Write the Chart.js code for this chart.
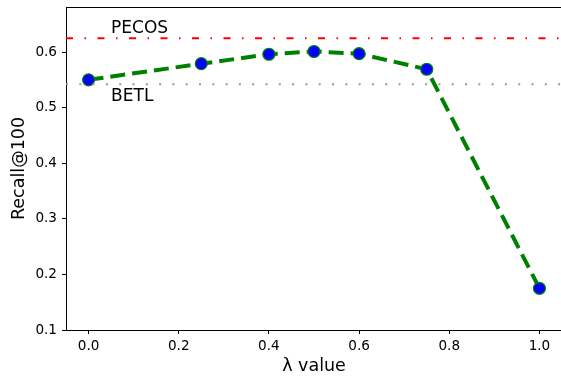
<!DOCTYPE html>
<html lang="en">

<head>
  <meta charset="UTF-8">
  <title>Recall vs lambda</title>
  <script src="https://cdn.jsdelivr.net/npm/chart.js"></script>
  <style>
    html, body { margin: 0; padding: 0; overflow: hidden; background: #fff; }
    canvas { display: block; }
  </style>
</head>

<body>
  <canvas id="chart" width="564" height="377"></canvas>

  <script>
    // data
    const lambdaValues = [0.0, 0.25, 0.4, 0.5, 0.6, 0.75, 1.0];
    const recallValues = [0.550, 0.579, 0.596, 0.601, 0.597, 0.569, 0.175];
    const pecosValue = 0.625;
    const betlValue = 0.542;
    const xTicks = [0.0, 0.2, 0.4, 0.6, 0.8, 1.0];
    const yTicks = [0.1, 0.2, 0.3, 0.4, 0.5, 0.6];
    const xMin = -0.05, xMax = 1.05;
    const yMin = 0.1, yMax = 0.681;

    const FONT = "'DejaVu Sans', sans-serif";
    Chart.defaults.font.family = FONT;
    Chart.defaults.color = '#000';

    const frame = {
      id: 'frame',
      afterDraw(chart) {
        const { ctx, chartArea: a, scales } = chart;
        ctx.save();
        ctx.strokeStyle = '#000';
        ctx.lineWidth = 1;
        ctx.beginPath();
        ctx.moveTo(a.left, a.top + 0.5);
        ctx.lineTo(a.right, a.top + 0.5);
        ctx.lineTo(a.right, a.bottom);
        ctx.stroke();
        // text labels for the reference lines
        ctx.fillStyle = '#000';
        ctx.font = "17px " + FONT;
        ctx.textBaseline = 'alphabetic';
        ctx.fillText('PECOS', scales.x.getPixelForValue(0.05), scales.y.getPixelForValue(0.635));
        ctx.fillText('BETL', scales.x.getPixelForValue(0.05), scales.y.getPixelForValue(0.512));
        ctx.restore();
      }
    };

    const ctx = document.getElementById('chart').getContext('2d');
    new Chart(ctx, {
      type: 'line',
      data: {
        datasets: [
          {
            label: 'PECOS',
            data: [{ x: xMin, y: pecosValue }, { x: xMax, y: pecosValue }],
            borderColor: '#ff0000',
            borderWidth: 2,
            borderDash: [7, 11.5, 1.5, 11.5],
            pointRadius: 0
          },
          {
            label: 'BETL',
            data: [{ x: xMin, y: betlValue }, { x: xMax, y: betlValue }],
            borderColor: '#999999',
            borderWidth: 2,
            borderDash: [2, 11.3],
            pointRadius: 0
          },
          {
            label: 'ours',
            data: lambdaValues.map((l, i) => ({ x: l, y: recallValues[i] })),
            borderColor: '#008000',
            borderWidth: 4,
            borderDash: [15, 7],
            pointRadius: 6,
            pointBackgroundColor: '#0000ff',
            pointBorderColor: '#008000',
            pointBorderWidth: 1.2
          }
        ]
      },
      options: {
        responsive: false,
        animation: false,
        layout: { autoPadding: false, padding: { top: 7, right: 2, left: 0, bottom: 0 } },
        plugins: { legend: { display: false }, tooltip: { enabled: false } },
        scales: {
          x: {
            type: 'linear',
            min: xMin,
            max: xMax,
            afterBuildTicks: s => { s.ticks = xTicks.map(v => ({ value: v })); },
            afterFit: s => { s.height = 47; s.paddingLeft = 0; s.paddingRight = 0; },
            grid: { drawOnChartArea: false, drawTicks: true, tickLength: 4, color: '#000' },
            border: { color: '#000', width: 1 },
            ticks: { font: { size: 13.6 }, padding: 4, maxRotation: 0, callback: v => v.toFixed(1) },
            title: { display: true, text: 'λ value', font: { size: 17.5 }, padding: { top: 2, bottom: 0 } }
          },
          y: {
            min: yMin,
            max: yMax,
            afterBuildTicks: s => { s.ticks = yTicks.map(v => ({ value: v })); },
            afterFit: s => { s.width = 66; s.paddingTop = 0; s.paddingBottom = 0; },
            grid: { drawOnChartArea: false, drawTicks: true, tickLength: 4, color: '#000' },
            border: { color: '#000', width: 1 },
            ticks: { font: { size: 13.6 }, padding: 5, callback: v => v.toFixed(1) },
            title: { display: true, text: 'Recall@100', font: { size: 17.5 }, padding: { top: 9, bottom: 0 } }
          }
        }
      },
      plugins: [frame]
    });
  </script>
</body>

</html>
